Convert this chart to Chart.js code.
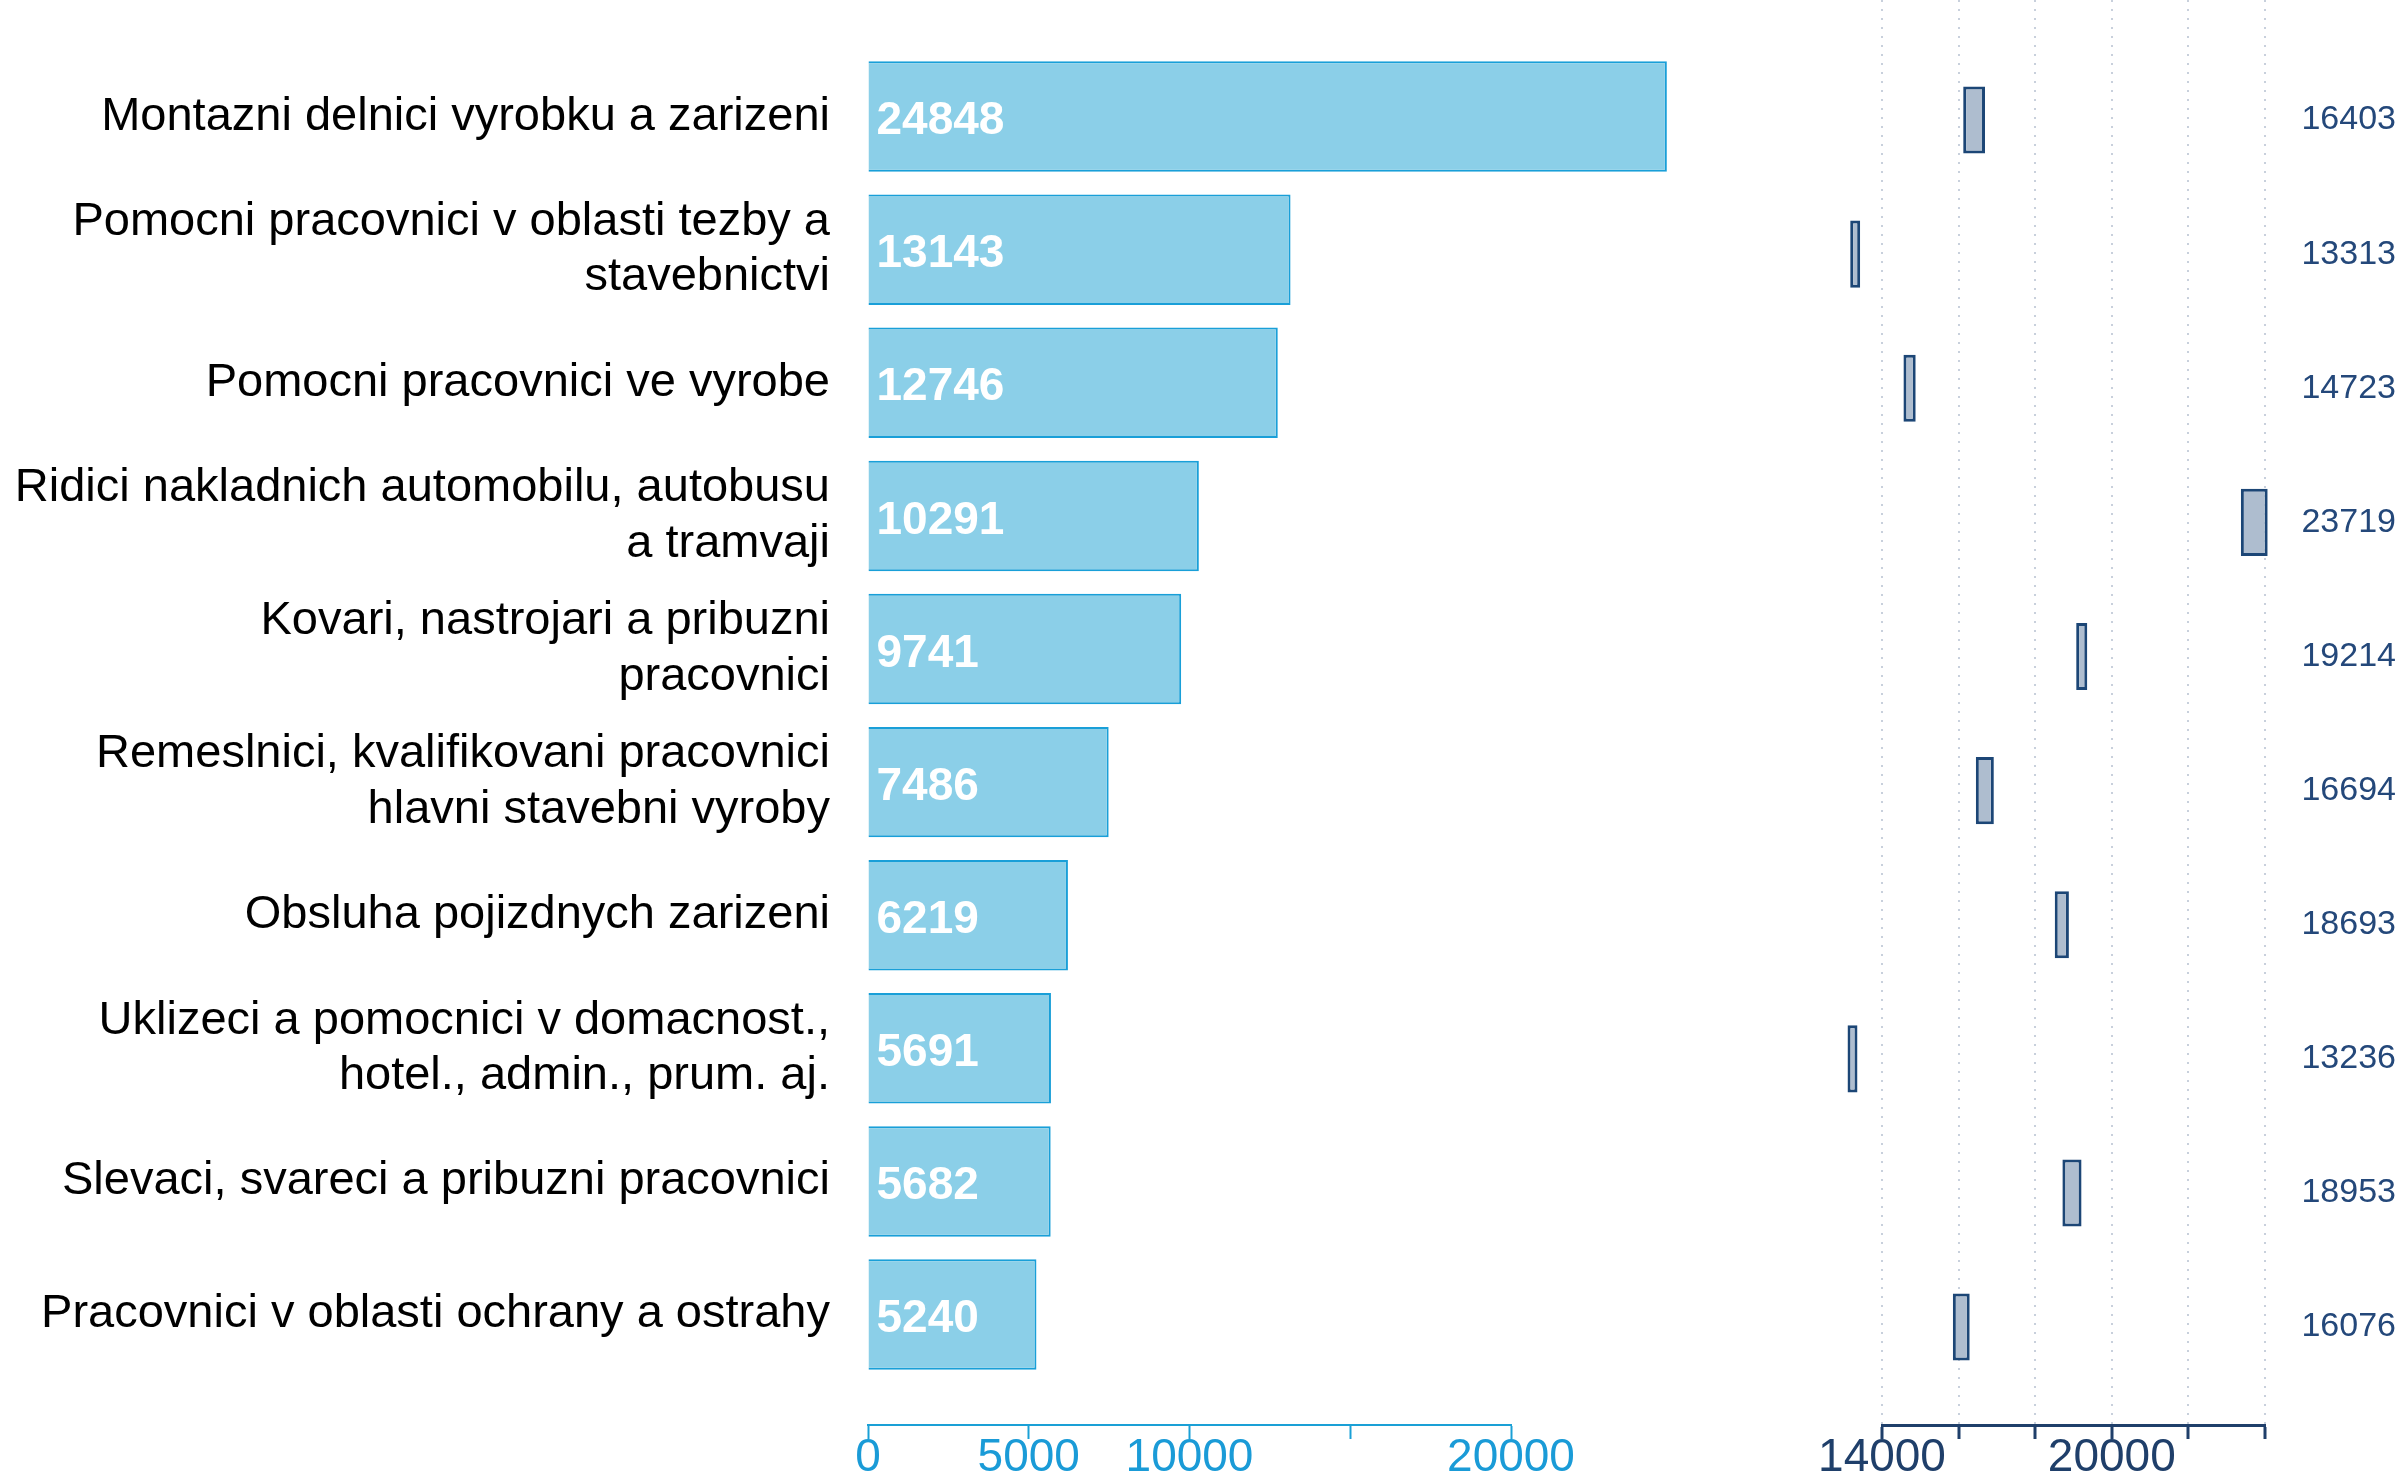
<!DOCTYPE html>
<html>
<head>
<meta charset="utf-8">
<title>Pracovnici a mzdy</title>
<script src="https://cdn.jsdelivr.net/npm/chart.js@4.4.1/dist/chart.umd.min.js"></script>
<style>
  body { margin: 0; background: #fff; }
  #wrap { position: relative; width: 2405px; height: 1477px; overflow: hidden; }
  canvas { position: absolute; top: 0; }
  #countChart { left: 0; }
  #wageChart { left: 1700px; }
</style>
</head>
<body>
<div id="wrap">
  <canvas id="countChart" width="1700" height="1477"></canvas>
  <canvas id="wageChart" width="705" height="1477"></canvas>
</div>
<script>
const categories = [
    'Montazni delnici vyrobku a zarizeni',
    ['Pomocni pracovnici v oblasti tezby a', 'stavebnictvi'],
    'Pomocni pracovnici ve vyrobe',
    ['Ridici nakladnich automobilu, autobusu', 'a tramvaji'],
    ['Kovari, nastrojari a pribuzni', 'pracovnici'],
    ['Remeslnici, kvalifikovani pracovnici', 'hlavni stavebni vyroby'],
    'Obsluha pojizdnych zarizeni',
    ['Uklizeci a pomocnici v domacnost.,', 'hotel., admin., prum. aj.'],
    'Slevaci, svareci a pribuzni pracovnici',
    'Pracovnici v oblasti ochrany a ostrahy'
];
const workerCounts = [24848, 13143, 12746, 10291, 9741, 7486, 6219, 5691, 5682, 5240];
const wageValues = [16403, 13313, 14723, 23719, 19214, 16694, 18693, 13236, 18953, 16076];
const wageLow = [16120, 13170, 14560, 23370, 19070, 16450, 18510, 13100, 18710, 15850];
const wageHigh = [16690, 13430, 14880, 24070, 19360, 16920, 18880, 13360, 19210, 16290];

const countTicks = [0, 5000, 10000, 15000, 20000];
const countTickLabels = ['0', '5000', '10000', '', '20000'];
const wageTicks = [14000, 16000, 18000, 20000, 22000, 24000];
const wageTickLabels = ['14000', '', '', '20000', '', ''];

Chart.defaults.font.family = "'Liberation Sans', Arial, sans-serif";
Chart.defaults.devicePixelRatio = 1;

const rowTicks = function(scale) {
    scale.ticks = categories.map((c, i) => ({ value: i }));
};

// white numbers inside the count bars
const barValueLabels = {
    id: 'barValueLabels',
    afterDatasetsDraw(chart) {
        const ctx = chart.ctx;
        const meta = chart.getDatasetMeta(0);
        ctx.save();
        ctx.font = "bold 46px 'Liberation Sans', Arial, sans-serif";
        ctx.fillStyle = '#ffffff';
        ctx.textAlign = 'left';
        ctx.textBaseline = 'middle';
        meta.data.forEach((bar, i) => {
            ctx.fillText(String(workerCounts[i]), bar.base + 8, bar.y + 5);
        });
        ctx.restore();
    }
};

new Chart(document.getElementById('countChart'), {
    type: 'bar',
    data: {
        datasets: [{
            data: workerCounts.map((v, i) => ({ x: v, y: i })),
            backgroundColor: '#8bcfe8',
            borderColor: '#199fd8',
            borderWidth: 2,
            barPercentage: 0.83,
            categoryPercentage: 1,
            clip: false
        }]
    },
    options: {
        indexAxis: 'y',
        responsive: false,
        animation: false,
        layout: { padding: { left: 0, right: 189, top: 0, bottom: 0 } },
        plugins: { legend: { display: false }, tooltip: { enabled: false } },
        scales: {
            y: {
                type: 'linear',
                offset: false,
                reverse: true,
                min: -0.876,
                max: 9.83,
                afterBuildTicks: rowTicks,
                afterFit: function(scale) {
                    scale.width = 868;
                    scale.paddingTop = 0;
                    scale.paddingBottom = 0;
                },
                grid: { display: false },
                border: { display: false },
                ticks: {
                    autoSkip: false,
                    padding: 30,
                    color: '#000000',
                    font: { size: 47, lineHeight: 1.18 },
                    callback: function(value) { return categories[value]; }
                }
            },
            x: {
                type: 'linear',
                min: 0,
                max: 20000,
                afterBuildTicks: function(scale) {
                    scale.ticks = countTicks.map(v => ({ value: v }));
                },
                afterFit: function(scale) { scale.height = 52; },
                grid: {
                    display: true,
                    drawOnChartArea: false,
                    drawTicks: true,
                    tickLength: 14,
                    tickColor: '#1aa0d6',
                    tickWidth: 2
                },
                border: { display: true, color: '#1aa0d6', width: 2 },
                ticks: {
                    autoSkip: false,
                    maxRotation: 0,
                    padding: 1,
                    color: '#1a9bd7',
                    font: { size: 46, lineHeight: 0.8 },
                    callback: function(value, index) { return countTickLabels[index]; }
                }
            }
        }
    },
    plugins: [barValueLabels]
});

new Chart(document.getElementById('wageChart'), {
    type: 'bar',
    data: {
        datasets: [{
            data: wageLow.map((v, i) => ({ x: [v, wageHigh[i]], y: i })),
            backgroundColor: '#aebdcf',
            borderColor: '#1c4676',
            borderWidth: 3,
            borderSkipped: false,
            barPercentage: 0.5,
            categoryPercentage: 1,
            clip: false
        }]
    },
    options: {
        indexAxis: 'y',
        responsive: false,
        animation: false,
        layout: { padding: { left: 182, right: 9, top: 0, bottom: 0 } },
        plugins: { legend: { display: false }, tooltip: { enabled: false } },
        scales: {
            y: {
                type: 'linear',
                offset: false,
                position: 'right',
                reverse: true,
                min: -0.895,
                max: 9.73,
                afterBuildTicks: rowTicks,
                afterFit: function(scale) {
                    scale.width = 131;
                    scale.paddingTop = 0;
                    scale.paddingBottom = 0;
                },
                grid: { display: false },
                border: { display: false },
                ticks: {
                    autoSkip: false,
                    crossAlign: 'far',
                    color: '#24487a',
                    font: { size: 34 },
                    callback: function(value) { return String(wageValues[value]); }
                }
            },
            x: {
                type: 'linear',
                min: 14000,
                max: 24000,
                afterBuildTicks: function(scale) {
                    scale.ticks = wageTicks.map(v => ({ value: v }));
                },
                afterFit: function(scale) { scale.height = 52; },
                grid: {
                    display: true,
                    drawOnChartArea: true,
                    color: '#c8d0dc',
                    lineWidth: 2,
                    drawTicks: true,
                    tickLength: 14,
                    tickColor: '#1f3f6a',
                    tickWidth: 3
                },
                border: { display: true, color: '#1f3f6a', width: 3, dash: [2, 7] },
                ticks: {
                    autoSkip: false,
                    maxRotation: 0,
                    padding: 1,
                    color: '#1f3f6a',
                    font: { size: 46, lineHeight: 0.8 },
                    callback: function(value, index) { return wageTickLabels[index]; }
                }
            }
        }
    }
});
</script>
</body>
</html>
